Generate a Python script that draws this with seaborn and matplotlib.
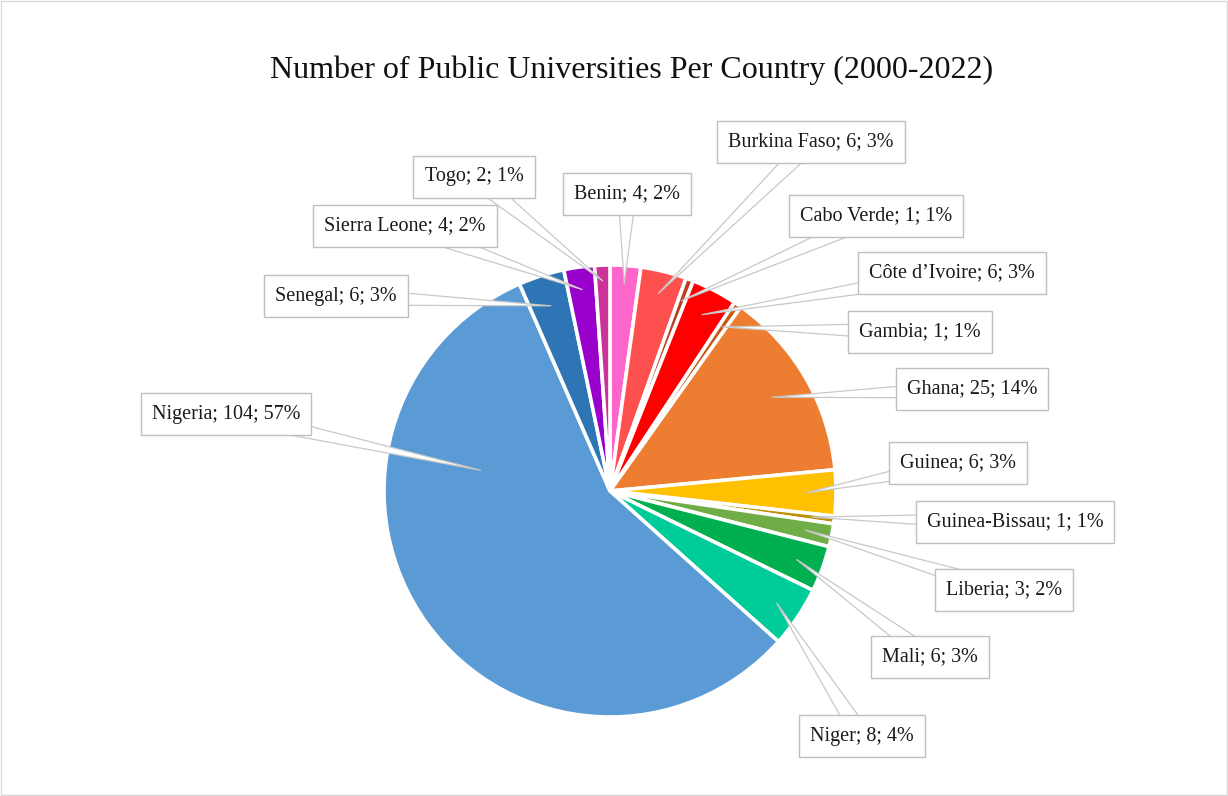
import matplotlib
matplotlib.use("Agg")
import matplotlib.pyplot as plt
import numpy as np
import seaborn as sns

# Public universities per West African country, 2000-2022
countries = ["Benin", "Burkina Faso", "Cabo Verde", "Côte d\u2019Ivoire", "Gambia",
             "Ghana", "Guinea", "Guinea-Bissau", "Liberia", "Mali", "Niger",
             "Nigeria", "Senegal", "Sierra Leone", "Togo"]
universities = [4, 6, 1, 6, 1, 25, 6, 1, 3, 6, 8, 104, 6, 4, 2]
percent_labels = ["2%", "3%", "1%", "3%", "1%", "14%", "3%", "1%", "2%", "3%", "4%",
                  "57%", "3%", "2%", "1%"]
slice_colors = ["#FF66CC", "#FF5050", "#B8401F", "#FF0000", "#C55A11",
                "#ED7D31", "#FFC000", "#BF9000", "#70AD47", "#00B050", "#00CC99",
                "#5B9BD5", "#2E75B6", "#9900CC", "#CC3399"]

# Callout box centres (figure pixels, origin top-left)
box_centres = [(627, 194), (811, 142), (876, 216), (952, 273), (920, 332),
               (972, 389), (958, 463), (1015, 522), (1004, 590), (930, 657),
               (862, 736), (226, 414), (336, 296), (405, 226), (474, 177)]
# Where each callout tail touches its wedge: (fraction across wedge, fraction of radius)
tail_points = [(0.5, 0.92), (0.5, 0.9), (0.5, 0.9), (0.5, 0.88), (0.5, 0.88),
               (0.5, 0.83), (0.5, 0.87), (0.5, 0.9), (0.5, 0.88), (0.5, 0.88),
               (0.5, 0.89), (0.28, 0.58), (0.5, 0.86), (0.5, 0.9), (0.5, 0.93)]

sns.set_theme(style="white")
plt.rcParams["font.family"] = ["Liberation Serif", "DejaVu Serif"]

W, H = 1228, 796
fig = plt.figure(figsize=(W / 100, H / 100), dpi=100)
ax = fig.add_axes([0, 0, 1, 1])

cx, cy, R = 610, H - 491, 226
wedges, _ = ax.pie(universities, colors=slice_colors, startangle=90,
                   counterclock=False, center=(cx, cy), radius=R, frame=True,
                   wedgeprops=dict(edgecolor="white", linewidth=2.6))
ax.set_xlim(0, W)
ax.set_ylim(0, H)
ax.set_aspect("equal")
ax.axis("off")

for w, name, n, pct, (bx, by), (fa, fr) in zip(wedges, countries, universities,
                                                percent_labels, box_centres, tail_points):
    ang = np.deg2rad(w.theta1 + fa * (w.theta2 - w.theta1))
    tip = (cx + fr * R * np.cos(ang), cy + fr * R * np.sin(ang))
    ax.annotate(f"{name}; {n}; {pct}", xy=tip, xytext=(bx, H - by),
                ha="center", va="center", fontsize=14.5, color="#1a1a1a",
                bbox=dict(boxstyle="square,pad=0.55", fc="white", ec="#BFBFBF", lw=1),
                arrowprops=dict(arrowstyle="wedge,tail_width=0.9,shrink_factor=0.5",
                                fc="white", ec="#C8C8C8", lw=0.9, patchA=None,
                                connectionstyle="arc3,rad=0", shrinkA=0, shrinkB=0),
                zorder=5)

fig.text(632 / W, 1 - 70 / H, "Number of Public Universities Per Country (2000-2022)",
         ha="center", va="center", fontsize=23, color="#111111")

# thin chart-area border
fig.patches.append(plt.Rectangle((0.001, 0.001), 0.998, 0.998, transform=fig.transFigure,
                                 fill=False, ec="#D9D9D9", lw=1))

fig.savefig("out.png", dpi=100, facecolor="white")
